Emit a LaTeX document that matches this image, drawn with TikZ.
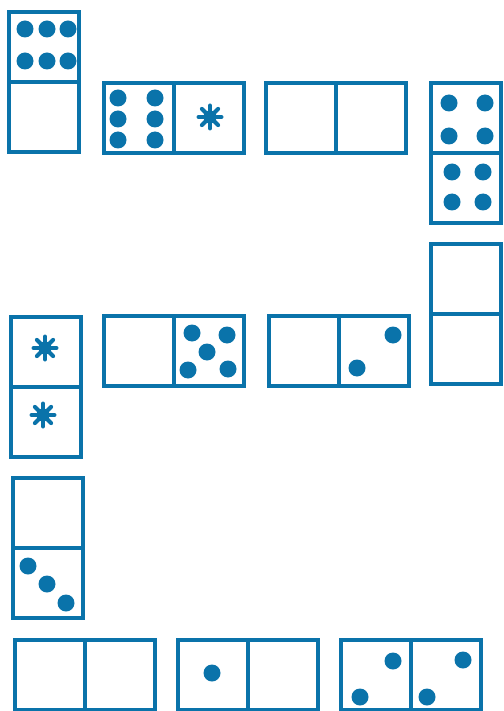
\documentclass[tikz,border=0pt]{standalone}
\usepackage{tikz}
\usepackage{xcolor}
\usetikzlibrary{positioning}
\definecolor{ink}{HTML}{0A73AA}
% blank-face marker: a splat of spokes
\newcommand{\splat}[1]{%
  \fill[ink] (#1) circle (6.5);
  \foreach \ang in {0,45,...,315}
    \draw[ink, line width=4pt, line cap=round] (#1) -- ++(\ang:11.5);
}

\begin{document}
\begin{tikzpicture}[
      x=1pt, y=-1pt,
      half/.style={draw=ink, line width=4.6pt, minimum width=70pt,
                   minimum height=70pt, inner sep=0pt, outer sep=0pt},
      pip/.style={fill=ink}
  ]
    \useasboundingbox (0,0) rectangle (503,711);

    % first row
    \node[half] (d1a) at (44,47) {};
    \node[half, below=0pt of d1a] (d1b) {};
    \node[half] (d2a) at (139,118) {};
    \node[half, right=0pt of d2a] (d2b) {};
    \node[half] (d3a) at (301,118) {};
    \node[half, right=0pt of d3a] (d3b) {};
    \node[half] (d4a) at (466,118) {};
    \node[half, below=0pt of d4a] (d4b) {};

    % second row
    \node[half] (d5a) at (46,352) {};
    \node[half, below=0pt of d5a] (d5b) {};
    \node[half] (d6a) at (139,351) {};
    \node[half, right=0pt of d6a] (d6b) {};
    \node[half] (d7a) at (304,351) {};
    \node[half, right=0pt of d7a] (d7b) {};
    \node[half] (d8a) at (466,279) {};
    \node[half, below=0pt of d8a] (d8b) {};

    % third and fourth rows
    \node[half] (d9a) at (48,513) {};
    \node[half, below=0pt of d9a] (d9b) {};
    \node[half] (d10a) at (50,675) {};
    \node[half, right=0pt of d10a] (d10b) {};
    \node[half] (d11a) at (213,675) {};
    \node[half, right=0pt of d11a] (d11b) {};
    \node[half] (d12a) at (376,675) {};
    \node[half, right=0pt of d12a] (d12b) {};

    % pips
    \foreach \px/\py in {25/29, 47/29, 68/29, 25/61, 47/61, 68/61,
                         118/98, 155/98, 118/119, 155/119, 118/140, 155/140,
                         449/103, 485/103, 449/136, 485/136,
                         452/172, 483/172, 452/202, 483/202,
                         192/333, 227/335, 207/352, 188/370, 228/369,
                         393/335, 357/368,
                         28/566, 47/584, 66/603,
                         212/673,
                         393/661, 360/697, 463/660, 427/697}
      \fill[pip] (\px,\py) circle (8.5);

    \splat{210,117}
    \splat{45,348}
    \splat{43,415}
  \end{tikzpicture}
\end{document}
